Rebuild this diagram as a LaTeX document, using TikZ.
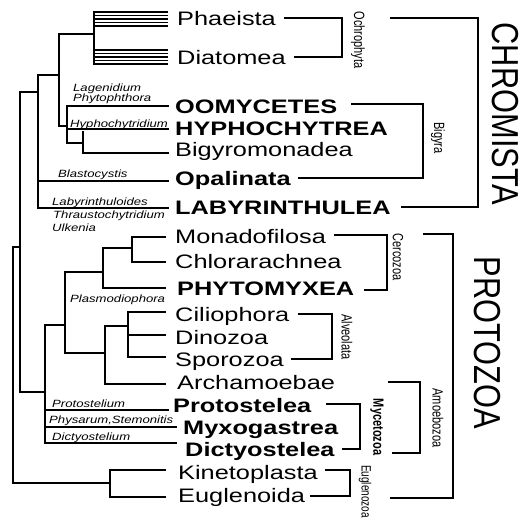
\documentclass[tikz,border=0pt]{standalone}
\usepackage{fontspec}
\setmainfont{Liberation Sans}
\usepackage{graphicx}
\newcommand{\hstr}[1]{\scalebox{1.3}[1]{#1}}
\newcommand{\istr}[1]{\scalebox{1.25}[1]{#1}}
\newcommand{\vstr}[1]{\scalebox{1}[1.35]{#1}}
\begin{document}
\begin{tikzpicture}[x=1pt,y=-1pt,
  tr/.style={line width=2.5pt, line cap=rect},
  ph/.style={line width=1.7pt},
  br/.style={line width=1.4pt},
  lab/.style={anchor=base west, inner sep=0pt, font=\fontsize{19.5}{20}\selectfont},
  blab/.style={anchor=base west, inner sep=0pt, font=\fontsize{19.5}{20}\selectfont\bfseries},
  itl/.style={anchor=base west, inner sep=0pt, font=\fontsize{10.5}{11}\selectfont\itshape},
  grp/.style={rotate=-90, inner sep=0pt, font=\fontsize{11}{11}\selectfont},
  big/.style={rotate=-90, inner sep=0pt, font=\fontsize{30.8}{31}\selectfont}]
\useasboundingbox[fill=white] (0,0) rectangle (523,520);

% ---- labels ----
\node[lab]  (phae) at (177,25)  {\hstr{Phaeista}};
\node[lab]  (diat) at (177,64)  {\hstr{Diatomea}};
\node[blab] (oomy) at (175,113) {\hstr{OOMYCETES}};
\node[blab] (hyph) at (175,135) {\hstr{HYPHOCHYTREA}};
\node[lab]  (bigy) at (175,156) {\hstr{Bigyromonadea}};
\node[blab] (opal) at (175,185) {\hstr{Opalinata}};
\node[blab] (laby) at (175,214) {\hstr{LABYRINTHULEA}};
\node[lab]  (mona) at (175,243) {\hstr{Monadofilosa}};
\node[lab]  (chlo) at (175,268) {\hstr{Chlorarachnea}};
\node[blab] (phyt) at (177,295) {\hstr{PHYTOMYXEA}};
\node[lab]  (cili) at (175,321) {\hstr{Ciliophora}};
\node[lab]  (dino) at (175,344) {\hstr{Dinozoa}};
\node[lab]  (spor) at (175,366) {\hstr{Sporozoa}};
\node[lab]  (arch) at (177,389) {\hstr{Archamoebae}};
\node[blab] (prot) at (173,412) {\hstr{Protostelea}};
\node[blab] (myxo) at (183,434) {\hstr{Myxogastrea}};
\node[blab] (dict) at (185,456) {\hstr{Dictyostelea}};
\node[lab]  (kine) at (178,479) {\hstr{Kinetoplasta}};
\node[lab]  (eugl) at (178,502) {\hstr{Euglenoida}};

% ---- italic genus labels ----
\node[itl] (lag)  at (73,91)  {\istr{Lagenidium}};
\node[itl] (phy)  at (73,101) {\istr{Phytophthora}};
\node[itl] (hyd)  at (70,127) {\istr{Hyphochytridium}};
\node[itl] (bla)  at (58,177) {\istr{Blastocystis}};
\node[itl] (lbo)  at (52,205) {\istr{Labyrinthuloides}};
\node[itl] (thr)  at (53,218) {\istr{Thraustochytridium}};
\node[itl] (ulk)  at (52,231) {\istr{Ulkenia}};
\node[itl] (pla)  at (70,302) {\istr{Plasmodiophora}};
\node[itl] (pst)  at (52,407) {\istr{Protostelium}};
\node[itl] (phs)  at (49,423) {\istr{Physarum,Stemonitis}};
\node[itl] (dst)  at (52,440) {\istr{Dictyostelium}};

% ---- group labels ----
\node[grp] (ochl) at (358,40)  {\vstr{Ochrophyta}};
\node[grp] (bigl) at (438,138) {\vstr{Bigyra}};
\node[grp] (cerl) at (398,257) {\vstr{Cercozoa}};
\node[grp] (alvl) at (347,337) {\vstr{Alveolata}};
\node[grp] (amol) at (438,418) {\vstr{Amoebozoa}};
\node[grp,font=\fontsize{11}{11}\selectfont\bfseries] (mycl) at (377,427) {\vstr{Mycetozoa}};
\node[grp,anchor=west,font=\fontsize{10}{10}\selectfont] (eull) at (365,465) {\vstr{Euglenozoa}};
\node[big] (chro) at (505,114) {\scalebox{1}[1.22]{CHROMISTA}};
\node[big] (prto) at (487,343) {\scalebox{1}[1.22]{PROTOZOA}};

% ---- tree ----
\foreach \y in {12,15.5,19,22.5,26} \draw[ph] (94,\y) -- (168,\y);
\foreach \y in {50,53.5,57,60.5,64} \draw[ph] (94,\y) -- (168,\y);
\draw[tr] (94,12) -- (94,64);
\draw[tr] (94,34) -| (59,126) -- (67,126);
\draw[tr] (168,106) -| (67,143) -- (83,143);
\draw[tr] (67,129) -- (168,129);
\draw[tr] (83,132) -- (83,153) -- (168,153);
\draw[tr] (59,75) -| (38,208) -- (168,208);
\draw[tr] (38,181) -- (168,181);
\draw[tr] (38,92) -| (20,392) -- (45,392);
\draw[tr] (20,247) -| (13,483) -| (110,470) -- (165,470);
\draw[tr] (110,483) -- (110,497) -- (165,497);
\draw[tr] (165,237) -| (132,262) -- (165,262);
\draw[tr] (132,248) -| (103,288) -- (165,288);
\draw[tr] (103,272) -| (65,353) -- (105,353);
\draw[tr] (165,312) -| (128,357) -- (165,357);
\draw[tr] (128,335) -- (165,335);
\draw[tr] (128,326) -| (105,384) -- (165,384);
\draw[tr] (65,325) -| (45,443) -- (176,443);
\draw[tr] (45,410) -- (168,410);
\draw[tr] (45,427) -- (176,427);

% ---- brackets ----
\coordinate (chT) at (390,18);
\coordinate (prT) at (423,234);
\coordinate (prB) at (390,498);
\coordinate (amT) at (388,382);
\coordinate (amB) at (392,453);
\draw[br] ([xshift=8pt,yshift=7pt]phae.base east) -| (342,57) -- ([xshift=8pt,yshift=7pt]diat.base east);
\draw[br] ([xshift=14pt,yshift=9pt]oomy.base east) -| (423,178) -- ([xshift=7pt,yshift=7pt]opal.base east);
\draw[br] (chT) -| (478,207) -- ([xshift=10pt,yshift=7pt]laby.base east);
\draw[br] ([xshift=8pt,yshift=8pt]mona.base east) -| (387,290) -- ([xshift=10pt,yshift=5pt]phyt.base east);
\draw[br] (prT) -| (453,498) -- (prB);
\draw[br] ([xshift=8pt,yshift=7pt]cili.base east) -| (332,359) -- ([xshift=7pt,yshift=7pt]spor.base east);
\draw[br] (amT) -| (420,453) -- (amB);
\draw[br] ([xshift=15pt,yshift=8pt]prot.base east) -| (360,449) -- ([xshift=7pt,yshift=7pt]dict.base east);
\draw[br] ([xshift=7pt,yshift=9pt]kine.base east) -| (350,496) -- ([xshift=5pt,yshift=6pt]eugl.base east);
\end{tikzpicture}
\end{document}
